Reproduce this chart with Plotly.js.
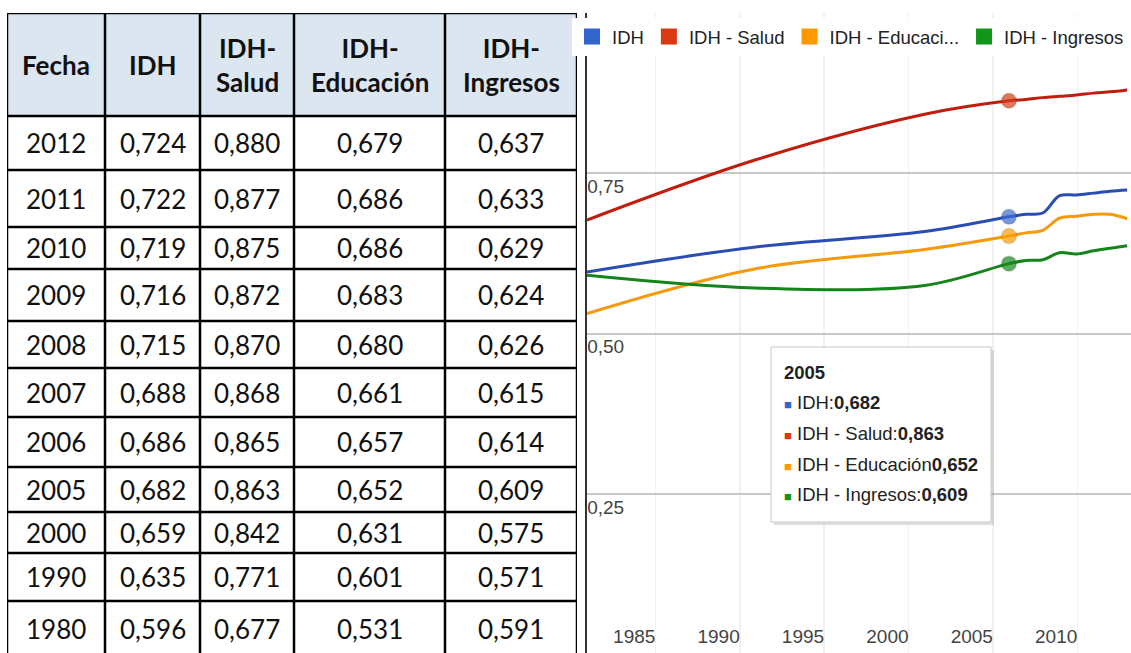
<!DOCTYPE html>
<html><head><meta charset="utf-8">
<script src="https://cdn.plot.ly/plotly-3.0.1.min.js"></script>
<style>html,body{margin:0;padding:0;background:#fff;overflow:hidden}#chart{width:1131px;height:653px}</style>
</head><body><div id="chart"></div>
<script>
// ---------- data ----------
const years     = [1980, 1990, 2000, 2005, 2006, 2007, 2008, 2009, 2010, 2011, 2012];
const idh       = [0.596, 0.635, 0.659, 0.682, 0.686, 0.688, 0.715, 0.716, 0.719, 0.722, 0.724];
const salud     = [0.677, 0.771, 0.842, 0.863, 0.865, 0.868, 0.870, 0.872, 0.875, 0.877, 0.880];
const educacion = [0.531, 0.601, 0.631, 0.652, 0.657, 0.661, 0.680, 0.683, 0.686, 0.686, 0.679];
const ingresos  = [0.591, 0.571, 0.575, 0.609, 0.614, 0.615, 0.626, 0.624, 0.629, 0.633, 0.637];

const tableHeaders = ['Fecha', 'IDH', 'IDH-<br>Salud', 'IDH-<br>Educación', 'IDH-<br>Ingresos'];
const legendNames  = ['IDH', 'IDH - Salud', 'IDH - Educaci...', 'IDH - Ingresos'];
const tooltipNames = ['IDH:', 'IDH - Salud:', 'IDH - Educación', 'IDH - Ingresos:'];
const highlightYear = 2005;
const xTickLabels = ['1985', '1990', '1995', '2000', '2005', '2010'];
const yTickValues = [0.25, 0.50, 0.75];
const yTickLabels = ['0,25', '0,50', '0,75'];

// ---------- styles ----------
const W = 1131, H = 653;
const lineColors   = ['#2a4db3', '#c01d0f', '#f59a0a', '#15841a'];
const markerColors = ['#3c6cd0', '#d63c17', '#ff9d0a', '#16891c'];
const legendColors = ['#3366cc', '#dc3912', '#ff9900', '#109618'];
const sans = '"Liberation Sans", Arial, sans-serif';
const tableFont = 'Lato, "Open Sans", sans-serif';
const colWidths  = [98, 95, 94, 151, 132];          // table column widths (px)
const rowHeights = [54, 57, 42, 52, 47, 49, 50, 45, 41, 48, 55]; // table row heights (px), top to bottom
const headerH = 103;
const tableViewH = 640;

const series = [idh, salud, educacion, ingresos];
const hiIdx = years.indexOf(highlightYear);
const fmt = v => v.toFixed(3).replace('.', ',');

// ---------- chart traces ----------
const traces = series.map((s, k) => ({
  type: 'scatter', mode: 'lines+markers', x: years, y: s,
  xaxis: 'x', yaxis: 'y', showlegend: false, hoverinfo: 'skip',
  line: {color: lineColors[k], width: 3, shape: 'spline', smoothing: 1},
  marker: {color: markerColors[k], size: years.map(y => y === highlightYear ? 15 : 0),
           line: {color: 'rgba(0,0,0,0.12)', width: 2}}
}));
legendNames.forEach((n, k) => traces.push({
  type: 'scatter', mode: 'markers', x: [null], y: [null], name: n,
  marker: {symbol: 'square', size: 16, color: legendColors[k]}, showlegend: true
}));

// ---------- table (drawn on its own axes) ----------
const shapes = [];
const annotations = [];
const colEdges = [0];
colWidths.forEach(w => colEdges.push(colEdges[colEdges.length - 1] + w));
const totalW = colEdges[colEdges.length - 1];
const rowsData = years.map((y, i) => [String(y), fmt(idh[i]), fmt(salud[i]), fmt(educacion[i]), fmt(ingresos[i])]).reverse();
const rowEdges = [0, headerH];
rowHeights.forEach(h => rowEdges.push(rowEdges[rowEdges.length - 1] + h));

shapes.push({type: 'rect', xref: 'x2', yref: 'y2', x0: 0, x1: totalW, y0: 0, y1: headerH,
             fillcolor: '#dce6f1', line: {width: 0}, layer: 'below'});
rowEdges.forEach(yv => shapes.push({type: 'line', xref: 'x2', yref: 'y2', x0: 0, x1: totalW, y0: yv, y1: yv,
                                    line: {color: '#000', width: 2.5}}));
colEdges.forEach(xv => shapes.push({type: 'line', xref: 'x2', yref: 'y2', x0: xv, x1: xv, y0: 0, y1: rowEdges[rowEdges.length - 1],
                                    line: {color: '#000', width: 2.5}}));
tableHeaders.forEach((h, c) => annotations.push({
  xref: 'x2', yref: 'y2', x: (colEdges[c] + colEdges[c + 1]) / 2, y: headerH / 2,
  text: '<b>' + h + '</b>', showarrow: false, align: 'center',
  font: {family: tableFont, size: 26, color: '#111'}
}));
rowsData.forEach((row, r) => row.forEach((txt, c) => annotations.push({
  xref: 'x2', yref: 'y2', x: (colEdges[c] + colEdges[c + 1]) / 2, y: (rowEdges[r + 1] + rowEdges[r + 2]) / 2,
  text: txt, showarrow: false, font: {family: tableFont, size: 26, color: '#111'}
})));

// ---------- tooltip box ----------
const tipL = 771, tipR = 991, tipT = 347, tipB = 522, tipLine = 30.7, tipFirst = 372;
shapes.push({type: 'rect', xref: 'paper', yref: 'paper', x0: (tipL + 3) / W, x1: (tipR + 3) / W,
             y0: 1 - (tipB + 3) / H, y1: 1 - (tipT + 3) / H,
             fillcolor: 'rgba(0,0,0,0.12)', line: {width: 0}, layer: 'above'});
shapes.push({type: 'rect', xref: 'paper', yref: 'paper', x0: tipL / W, x1: tipR / W,
             y0: 1 - tipB / H, y1: 1 - tipT / H,
             fillcolor: '#fff', line: {color: '#c8c8c8', width: 1}, layer: 'above'});
const tipLines = ['<b>' + highlightYear + '</b>'];
series.forEach((s, k) => {
  tipLines.push('<span style="font-size:13px;color:' + legendColors[k] + '">■</span> ' + tooltipNames[k] + '<b>' + fmt(s[hiIdx]) + '</b>');
});
tipLines.forEach((t, i) => annotations.push({
  xref: 'paper', yref: 'paper', x: 782 / W, y: 1 - (tipFirst + i * tipLine) / H,
  xanchor: 'left', yanchor: 'middle', text: t, showarrow: false, align: 'left',
  font: {family: sans, size: 18.5, color: '#222'}
}));

const layout = {
  width: W, height: H, margin: {l: 0, r: 0, t: 0, b: 0, autoexpand: false},
  paper_bgcolor: '#fff', plot_bgcolor: '#fff',
  showlegend: true,
  legend: {orientation: 'h', x: 572 / W, xanchor: 'left', y: 1 - 18 / H, yanchor: 'top',
           bgcolor: '#fff', font: {family: sans, size: 18.5, color: '#222'}, itemwidth: 30,
           itemclick: false, itemdoubleclick: false},
  xaxis: {domain: [587 / W, 1], range: [1980, 2012.23], anchor: 'y',
          tickvals: xTickLabels.map(l => Number(l) - 0.95), ticktext: xTickLabels,
          ticklabelposition: 'inside left', ticks: '', showgrid: true, gridcolor: '#f1f1f1', gridwidth: 1.5,
          zeroline: false, showline: false, tickfont: {family: sans, size: 19, color: '#444'}},
  yaxis: {domain: [0, 1 - 13 / H], range: [0.0016, 1], anchor: 'x',
          tickvals: yTickValues, ticktext: yTickLabels, ticklabelposition: 'inside bottom', ticks: '',
          showgrid: true, gridcolor: '#c8c8c8', gridwidth: 2, zeroline: false,
          showline: true, linecolor: '#333', linewidth: 2,
          tickfont: {family: sans, size: 19, color: '#444'}},
  xaxis2: {domain: [7 / W, 577 / W], range: [0, totalW], anchor: 'y2', visible: false, fixedrange: true},
  yaxis2: {domain: [0, 1 - 13 / H], range: [tableViewH, 0], anchor: 'x2', visible: false, fixedrange: true},
  shapes: shapes, annotations: annotations
};

Plotly.newPlot('chart', traces, layout, {displayModeBar: false, staticPlot: true});
</script></body></html>
